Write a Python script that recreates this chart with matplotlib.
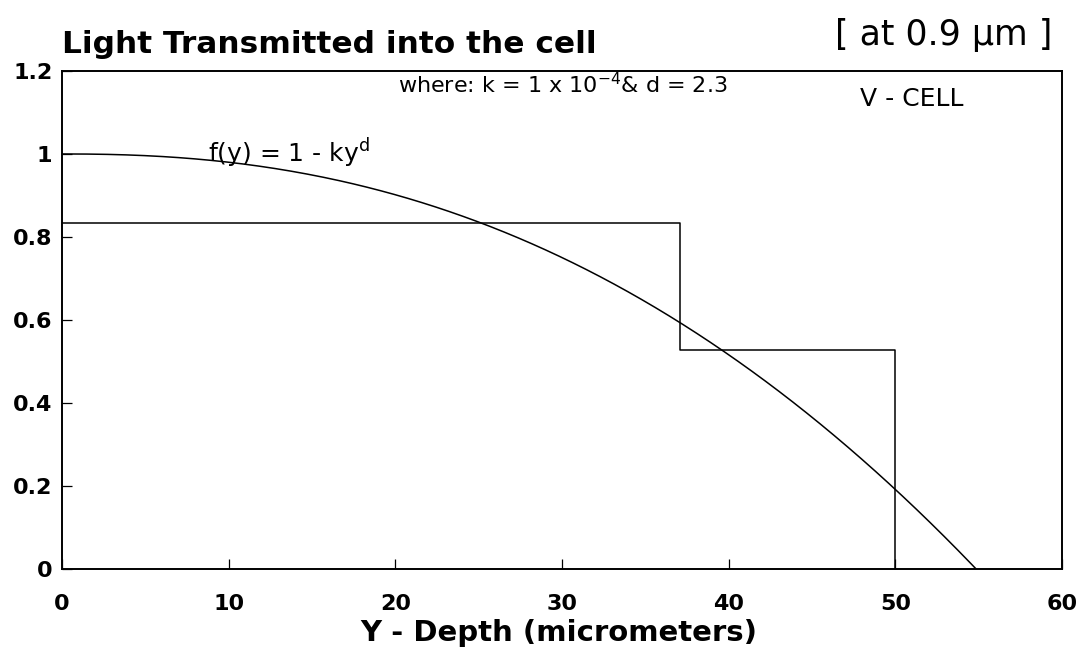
import numpy as np
import matplotlib
matplotlib.use("Agg")
import matplotlib.pyplot as plt

plt.rcParams['font.family'] = ['DejaVu Sans']
plt.rcParams['mathtext.default'] = 'regular'

# transmission law parameters
k = 1e-4
d = 2.3

# step approximation (layer edges and levels)
step_edges = [0, 37.1, 50.0]
step_levels = [0.833, 0.527]

x_ticks = [0, 10, 20, 30, 40, 50, 60]
y_ticks = [0, 0.2, 0.4, 0.6, 0.8, 1, 1.2]
y_ticklabels = ['0', '0.2', '0.4', '0.6', '0.8', '1', '1.2']

fig = plt.figure(figsize=(10.84, 6.67), dpi=100)
ax = fig.add_axes([0.0572, 0.147, 0.9225, 0.7466])

# smooth curve f(y) = 1 - k y^d, clipped at zero
y_end = (1.0 / k) ** (1.0 / d)
yy = np.linspace(0, y_end, 400)
ax.plot(yy, 1 - k * yy ** d, color='black', lw=1.1)

# stepped profile
sx = [step_edges[0], step_edges[1], step_edges[1], step_edges[2], step_edges[2]]
sy = [step_levels[0], step_levels[0], step_levels[1], step_levels[1], 0]
ax.plot(sx, sy, color='black', lw=1.1)

ax.set_xlim(0, 60)
ax.set_ylim(0, 1.2)
ax.set_xticks(x_ticks)
ax.set_yticks(y_ticks)
ax.set_yticklabels(y_ticklabels)
ax.tick_params(direction='in', length=7, width=0.9)
ax.tick_params(axis='x', pad=18)
ax.tick_params(axis='y', pad=7)
for lab in ax.get_xticklabels() + ax.get_yticklabels():
    lab.set_fontweight('bold')
    lab.set_fontsize(16)
for sp in ax.spines.values():
    sp.set_linewidth(1.4)

ax.set_xlabel('Y - Depth (micrometers)', fontsize=21, fontweight='bold')
ax.xaxis.set_label_coords(0.497, -0.1)

fig.text(62 / 1084, 1 - 53 / 667, 'Light Transmitted into the cell', fontsize=22.5,
         fontweight='bold', ha='left', va='baseline')
fig.text(1052 / 1084, 1 - 45 / 667, '[ at 0.9 μm ]', fontsize=25,
         ha='right', va='baseline')

ax.text(398 / 1084, 1 - 93 / 667, 'where: k = 1 x 10$^{-4}$& d = 2.3',
        transform=fig.transFigure, fontsize=16, ha='left', va='baseline')
ax.text(208 / 1084, 1 - 162 / 667, 'f(y) = 1 - ky$^{d}$',
        transform=fig.transFigure, fontsize=18, ha='left', va='baseline')
ax.text(912 / 1084, 1 - 106 / 667, 'V - CELL',
        transform=fig.transFigure, fontsize=18, ha='center', va='baseline')

fig.savefig('out.png', dpi=100)
